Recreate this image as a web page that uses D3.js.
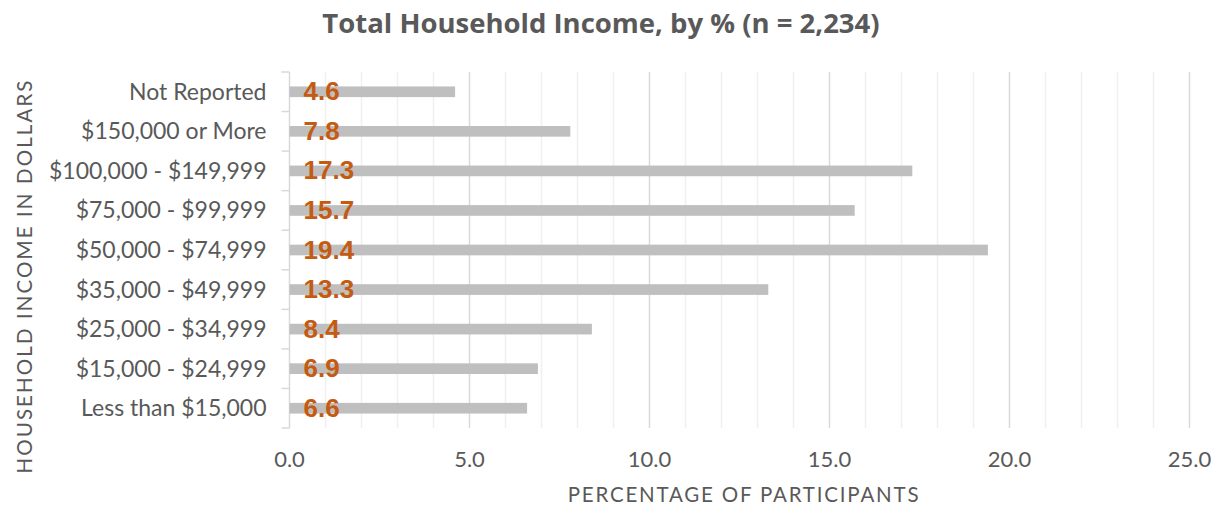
<!DOCTYPE html>
<meta charset="utf-8">
<script src="https://d3js.org/d3.v7.min.js"></script>
<style>
    body { margin: 0; background: #fff; }
</style>
<div id="chart"></div>
<script>
    // categories, top to bottom as drawn
    var categories = ["Not Reported", "$150,000 or More", "$100,000 - $149,999", "$75,000 - $99,999",
        "$50,000 - $74,999", "$35,000 - $49,999", "$25,000 - $34,999", "$15,000 - $24,999", "Less than $15,000"];
    var percents = [4.6, 7.8, 17.3, 15.7, 19.4, 13.3, 8.4, 6.9, 6.6];
    var xTicks = [0, 5, 10, 15, 20, 25];
    var minorTicks = d3.range(0, 26, 1);

    var margin = {top: 72, right: 37.5, bottom: 79, left: 289.5},
        W = 1227, H = 507,
        width = W - margin.left - margin.right,
        height = H - margin.top - margin.bottom;

    var svg = d3.select("#chart").append("svg")
        .attr("width", W).attr("height", H);

    var g = svg.append("g")
        .attr("transform", "translate(" + margin.left + "," + margin.top + ")");

    var x = d3.scaleLinear().domain([0, 25]).range([0, width]);
    var y = d3.scaleBand().domain(categories).range([0, height]).paddingInner(0).paddingOuter(0);

    // minor gridlines
    g.selectAll(".minor").data(minorTicks.filter(function(d) { return d % 5 !== 0; }))
        .enter().append("line")
        .attr("x1", function(d) { return x(d); }).attr("x2", function(d) { return x(d); })
        .attr("y1", 0).attr("y2", height)
        .attr("stroke", "#f0f0f0").attr("stroke-width", 1.5);

    // major gridlines
    g.selectAll(".major").data(xTicks.slice(1))
        .enter().append("line")
        .attr("x1", function(d) { return x(d); }).attr("x2", function(d) { return x(d); })
        .attr("y1", 0).attr("y2", height)
        .attr("stroke", "#d9d9d9").attr("stroke-width", 1.5);

    // y axis line + category boundary ticks
    g.append("line").attr("x1", 0).attr("x2", 0).attr("y1", 0).attr("y2", height)
        .attr("stroke", "#d9d9d9").attr("stroke-width", 1.5);
    var bounds = categories.map(function(c) { return y(c); }).concat([height]);
    g.selectAll(".ytick").data(bounds).enter().append("line")
        .attr("x1", -8).attr("x2", 0)
        .attr("y1", function(d) { return d; }).attr("y2", function(d) { return d; })
        .attr("stroke", "#d9d9d9").attr("stroke-width", 1.5);

    // bars
    var barH = y.bandwidth() * 0.27;
    g.selectAll(".bar").data(percents).enter().append("rect")
        .attr("x", x(0))
        .attr("y", function(d, i) { return y(categories[i]) + y.bandwidth() / 2 - barH / 2; })
        .attr("width", function(d) { return x(d) - x(0); })
        .attr("height", barH)
        .attr("fill", "#bfbfbf");

    // value labels
    g.selectAll(".val").data(percents).enter().append("text")
        .attr("x", x(0) + 14)
        .attr("y", function(d, i) { return y(categories[i]) + y.bandwidth() / 2 + 8.5; })
        .attr("font-family", "'Liberation Sans', Arial, sans-serif")
        .attr("font-weight", "bold")
        .attr("font-size", 26)
        .attr("fill", "#c55a11")
        .text(function(d) { return d.toFixed(1); });

    // category labels
    g.selectAll(".cat").data(categories).enter().append("text")
        .attr("x", -23)
        .attr("y", function(d) { return y(d) + y.bandwidth() / 2 + 8; })
        .attr("text-anchor", "end")
        .attr("font-family", "Lato, sans-serif")
        .attr("font-size", 23)
        .attr("fill", "#595959")
        .text(function(d) { return d; });

    // x tick labels
    g.selectAll(".xlab").data(xTicks).enter().append("text")
        .attr("x", function(d) { return x(d); })
        .attr("y", height + 39)
        .attr("text-anchor", "middle")
        .attr("font-family", "Lato, sans-serif")
        .attr("font-size", 22)
        .attr("fill", "#595959")
        .text(function(d) { return d.toFixed(1); });

    // axis titles
    svg.append("text")
        .attr("x", 744).attr("y", 502)
        .attr("text-anchor", "middle")
        .attr("font-family", "Lato, sans-serif")
        .attr("font-size", 20.5)
        .attr("letter-spacing", 1.8)
        .attr("fill", "#595959")
        .text("PERCENTAGE OF PARTICIPANTS");

    svg.append("text")
        .attr("transform", "translate(32,276) rotate(-90)")
        .attr("text-anchor", "middle")
        .attr("font-family", "Lato, sans-serif")
        .attr("font-size", 20.5)
        .attr("letter-spacing", 2.1)
        .attr("fill", "#595959")
        .text("HOUSEHOLD INCOME IN DOLLARS");

    // title
    svg.append("text")
        .attr("x", 601).attr("y", 33)
        .attr("text-anchor", "middle")
        .attr("font-family", "'Open Sans', sans-serif")
        .attr("font-weight", "bold")
        .attr("font-size", 27.5)
        .attr("fill", "#595959")
        .text("Total Household Income, by % (n = 2,234)");
</script>
